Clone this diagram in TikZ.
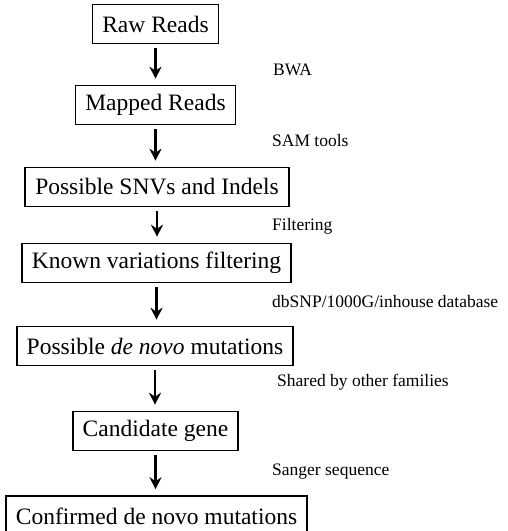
\documentclass[tikz,border=0pt]{standalone}
\usepackage{fontspec}
\setmainfont{Liberation Serif}
\usetikzlibrary{arrows.meta}
\tikzset{
  stepbox/.style={draw=black, line width=1.6pt, inner xsep=10pt, minimum height=39pt,
    font=\fontsize{23.5}{28}\selectfont},
  toollabel/.style={anchor=west, inner sep=0pt, font=\fontsize{17.5}{21}\selectfont},
  flow/.style={-{Stealth[width=12pt,length=12pt,inset=4pt]}, line width=2.6pt, shorten <=4pt, shorten >=6pt}
}

\begin{document}
\begin{tikzpicture}[x=1pt, y=-1pt]
			%%%%% START %%%%%
			\useasboundingbox (0, 0) rectangle (508, 531);
			
			\node[stepbox] (raw) at (155.5, 24) {Raw Reads};
			\node[stepbox] (mapped) at (155.5, 105) {Mapped Reads};
			\node[stepbox] (snv) at (157, 187) {Possible SNVs and Indels};
			\node[stepbox] (known) at (156.5, 263) {Known variations filtering};
			\node[stepbox] (denovo) at (155, 346) {Possible \textit{de novo} mutations};
			\node[stepbox] (cand) at (155.5, 431) {Candidate gene};
			\node[stepbox, minimum height=40pt] (confirmed) at (156.5, 516) {Confirmed de novo mutations};
			
			\draw[flow] (raw.south) -- (raw.south |- mapped.north);
			\draw[flow] (mapped.south) -- (mapped.south |- snv.north);
			\draw[flow] (snv.south) -- (snv.south |- known.north);
			\draw[flow] (known.south) -- (known.south |- denovo.north);
			\draw[flow] (denovo.south) -- (denovo.south |- cand.north);
			\draw[flow] (cand.south) -- (cand.south |- confirmed.north);
			
			\node[toollabel] (bwa) at (273, 70) {BWA};
			\node[toollabel] (samtools) at (272, 141) {SAM tools};
			\node[toollabel] (filtering) at (272, 226) {Filtering};
			\node[toollabel] (dbsnp) at (272, 302) {dbSNP/1000G/inhouse database};
			\node[toollabel] (shared) at (277, 382) {Shared by other families};
			\node[toollabel] (sanger) at (272, 472) {Sanger sequence};
			
			%%%%% END %%%%%
\end{tikzpicture}
\end{document}
